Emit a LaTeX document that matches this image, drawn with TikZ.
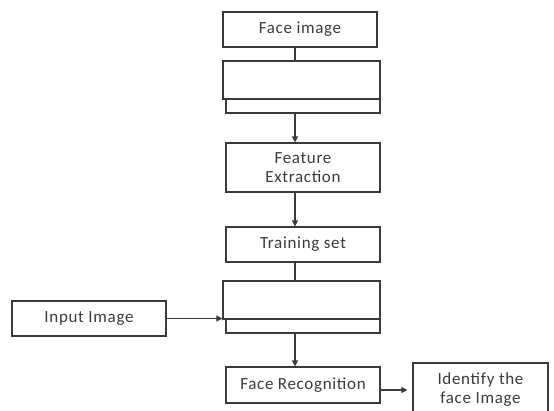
\documentclass[tikz,border=0pt]{standalone}
\usepackage{fontspec}
\setmainfont{Carlito}
\newfontfamily\boxfont[LetterSpace=4]{Carlito}
\usepackage{xcolor}
\usepackage{tikz}
\usetikzlibrary{arrows.meta}
\usetikzlibrary{shapes,arrows}
\definecolor{edgegray}{HTML}{3A3A3A}
\definecolor{textgray}{HTML}{3C3C3C}
\tikzstyle{block} = [draw=edgegray, line width=1.2pt, fill=white, text=textgray, font=\boxfont\fontsize{17}{19}\selectfont, align=center, inner sep=0pt]
\tikzstyle{arrow} = [line width=1.1pt, draw=edgegray, -{Triangle[length=6pt,width=6pt]}]
\tikzstyle{link} = [line width=1.1pt, draw=edgegray]

\begin{document}
\begin{tikzpicture}[x=1pt, y=1pt]
    \useasboundingbox (0,0) rectangle (554,-410);
    \coordinate (spine) at (295,0);

    \node[block, minimum width=154pt, minimum height=35pt] (face) at (300,-29.5) {Face image};

    \node[block, minimum width=154pt, minimum height=52pt] (blankAback) at (303,-87) {};
    \node[block, minimum width=157pt, minimum height=38pt] (blankA) at (301.5,-80) {};

    \node[block, minimum width=154pt, minimum height=49pt] (feature) at (303,-167.5) {Feature\\Extraction};
    \node[block, minimum width=154pt, minimum height=35pt] (train) at (303,-244.5) {Training set};

    \node[block, minimum width=154pt, minimum height=52pt] (blankBback) at (303,-307) {};
    \node[block, minimum width=157pt, minimum height=38pt] (blankB) at (301.5,-300) {};

    \node[block, minimum width=154pt, minimum height=35pt] (input) at (89,-318.5) {Input Image};
    \node[block, minimum width=154pt, minimum height=36pt] (recog) at (303,-385) {Face Recognition};
    \node[block, minimum width=135pt, minimum height=54pt] (identify) at (480.5,-390) {Identify the\\face Image};

    \draw[link] (face.south -| spine) -- (blankA.north -| spine);
    \draw[arrow] (blankAback.south -| spine) -- (feature.north -| spine);
    \draw[arrow] (feature.south -| spine) -- (train.north -| spine);
    \draw[link] (train.south -| spine) -- (blankB.north -| spine);
    \draw[arrow] (blankBback.south -| spine) -- (recog.north -| spine);
    \draw[arrow] (input.east) -- (input.east -| blankB.west);
    \draw[arrow, shorten >=5pt] (identify.west -| recog.east) -- (identify.west);
\end{tikzpicture}
\end{document}
